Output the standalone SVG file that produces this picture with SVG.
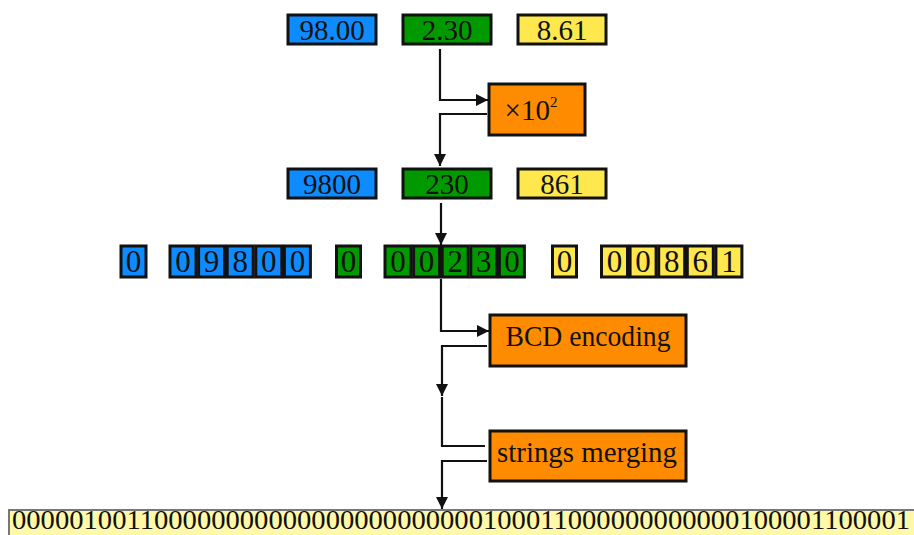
<svg xmlns="http://www.w3.org/2000/svg" width="914" height="535" viewBox="0 0 914 535">
<defs>
<style>
.b{fill:#0d8bff}.g{fill:#009a00}.y{fill:#ffe84d}.o{fill:#ff8c00}
.box{stroke:#111;stroke-width:3}
.t{font-family:"Liberation Serif",serif;font-size:29px;fill:#111;text-anchor:middle}
.d{font-family:"Liberation Serif",serif;font-size:31px;fill:#111;text-anchor:middle}
.ln{fill:none;stroke:#111;stroke-width:2.2}
</style>
<marker id="ah" viewBox="0 0 10 10" refX="10" refY="5" markerWidth="13" markerHeight="12" markerUnits="userSpaceOnUse" orient="auto">
<path d="M0,0L10,5L0,10Z" fill="#111"/>
</marker>
</defs>
<rect width="914" height="535" fill="#fff"/>
<g id="top-row">
<g id="n-98"><rect class="box b" x="288" y="15" width="88" height="29"/><text class="t" x="332" y="40">98.00</text></g>
<g id="n-230a"><rect class="box g" x="403" y="15" width="88" height="29"/><text class="t" x="447" y="40">2.30</text></g>
<g id="n-861a"><rect class="box y" x="518" y="15" width="88" height="29"/><text class="t" x="562" y="40">8.61</text></g>
</g>
<g id="n-mult"><rect class="box o" x="489" y="84" width="96" height="51"/><text class="t" x="531" y="120">×10<tspan font-size="15" dy="-13">2</tspan></text></g>
<g id="mid-row">
<g id="n-9800"><rect class="box b" x="288" y="169" width="88" height="29"/><text class="t" x="332" y="194">9800</text></g>
<g id="n-230"><rect class="box g" x="403" y="169" width="88" height="29"/><text class="t" x="447" y="194">230</text></g>
<g id="n-861"><rect class="box y" x="518" y="169" width="88" height="29"/><text class="t" x="562" y="194">861</text></g>
</g>
<g id="digits">
<rect class="box b" x="121" y="246" width="25" height="31"/><text class="d" x="133.5" y="272">0</text>
<rect class="box b" x="170" y="246" width="26" height="31"/><text class="d" x="183" y="272">0</text>
<rect class="box b" x="198.6" y="246" width="26" height="31"/><text class="d" x="211.6" y="272">9</text>
<rect class="box b" x="227.2" y="246" width="26" height="31"/><text class="d" x="240.2" y="272">8</text>
<rect class="box b" x="255.8" y="246" width="26" height="31"/><text class="d" x="268.8" y="272">0</text>
<rect class="box b" x="284.4" y="246" width="26" height="31"/><text class="d" x="297.4" y="272">0</text>
<rect class="box g" x="336.5" y="246" width="24" height="31"/><text class="d" x="348.5" y="272">0</text>
<rect class="box g" x="385" y="246" width="26" height="31"/><text class="d" x="398" y="272">0</text>
<rect class="box g" x="413.6" y="246" width="26" height="31"/><text class="d" x="426.6" y="272">0</text>
<rect class="box g" x="442.2" y="246" width="26" height="31"/><text class="d" x="455.2" y="272">2</text>
<rect class="box g" x="470.8" y="246" width="26" height="31"/><text class="d" x="483.8" y="272">3</text>
<rect class="box g" x="499.4" y="246" width="25" height="31"/><text class="d" x="511.9" y="272">0</text>
<rect class="box y" x="552.5" y="246" width="24" height="31"/><text class="d" x="564.5" y="272">0</text>
<rect class="box y" x="601.5" y="246" width="26" height="31"/><text class="d" x="614.5" y="272">0</text>
<rect class="box y" x="630.1" y="246" width="26" height="31"/><text class="d" x="643.1" y="272">0</text>
<rect class="box y" x="658.7" y="246" width="26" height="31"/><text class="d" x="671.7" y="272">8</text>
<rect class="box y" x="687.3" y="246" width="26" height="31"/><text class="d" x="700.3" y="272">6</text>
<rect class="box y" x="715.9" y="246" width="26" height="31"/><text class="d" x="728.9" y="272">1</text>
</g>
<g id="n-bcd"><rect class="box o" x="490" y="315" width="196" height="51"/><text class="t" x="588" y="346" textLength="165" lengthAdjust="spacingAndGlyphs">BCD encoding</text></g>
<g id="n-merge"><rect class="box o" x="490" y="431" width="196" height="50"/><text class="t" x="587" y="462" textLength="180" lengthAdjust="spacingAndGlyphs">strings merging</text></g>
<g id="n-result"><rect x="9" y="510" width="910" height="30" fill="#fff8a8" stroke="#777" stroke-width="2"/><text font-family="Liberation Serif,serif" font-size="28" fill="#111" x="12" y="529" textLength="898" lengthAdjust="spacingAndGlyphs">000001001100000000000000000000000100011000000000000100001100001</text></g>
<g id="connectors">
<path class="ln" d="M440,49V100H488" marker-end="url(#ah)"/>
<path class="ln" d="M487,114H440V166" marker-end="url(#ah)"/>
<path class="ln" d="M441,203V245" marker-end="url(#ah)"/>
<path class="ln" d="M441,279V331H489" marker-end="url(#ah)"/>
<path class="ln" d="M487,346H442V396" marker-end="url(#ah)"/>
<path class="ln" d="M442,397V446H485"/>
<path class="ln" d="M487,461H442V509" marker-end="url(#ah)"/>
</g>
</svg>
